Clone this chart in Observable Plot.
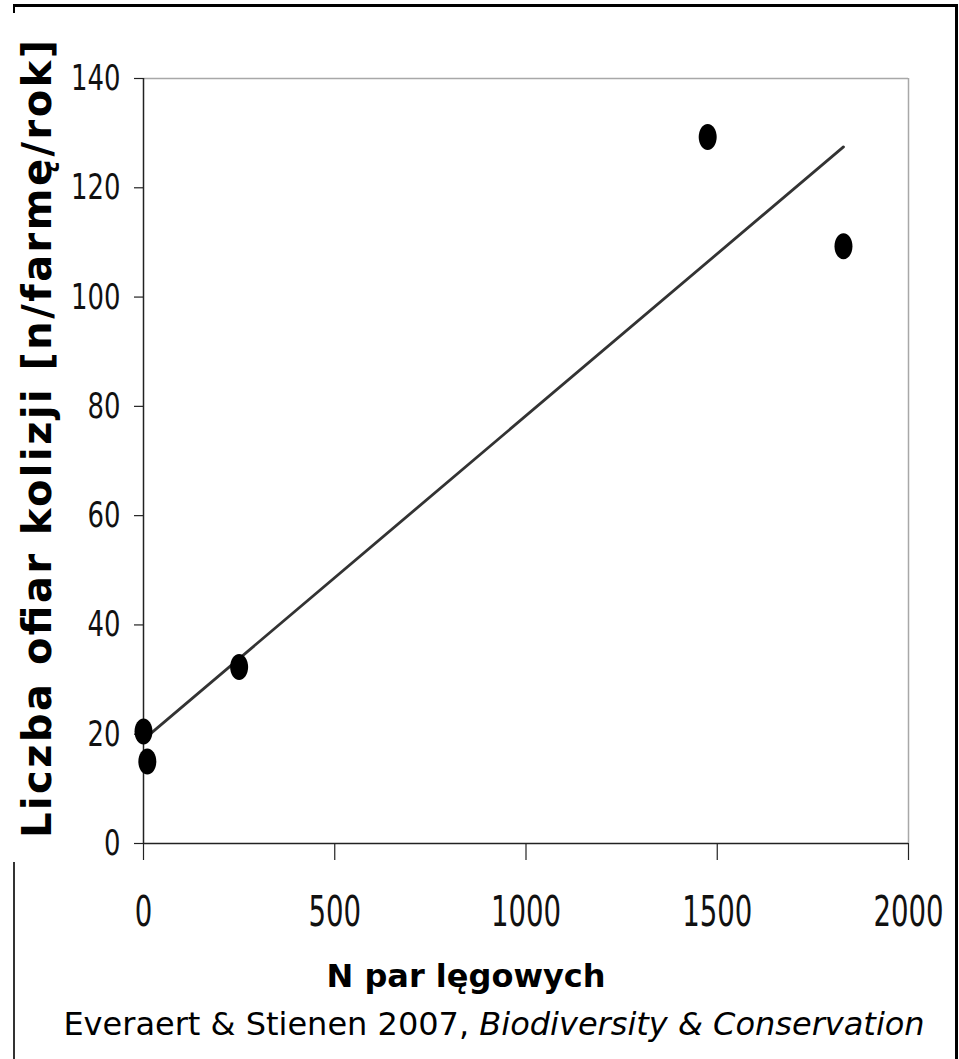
<!DOCTYPE html>
<html>
<head>
<meta charset="utf-8">
<script src="https://cdn.jsdelivr.net/npm/d3@7"></script>
<script src="https://cdn.jsdelivr.net/npm/@observablehq/plot@0.6"></script>
<style>
  html, body { margin: 0; padding: 0; background: #fff; }
  #wrap { position: relative; width: 959px; height: 1059px; overflow: hidden; background: #fff; }
  .bd { position: absolute; background: #000; }
  #chart { position: absolute; left: 0; top: 0; }
  #caption { position: absolute; left: 0; top: 1008px; width: 988px; text-align: center; white-space: nowrap;
    font-family: "DejaVu Sans", Verdana, sans-serif; font-size: 32px; color: #000; line-height: 1; }
</style>
</head>
<body>
<div id="wrap">
  <div class="bd" style="left:13px;top:4px;width:945px;height:3px;"></div>
  <div class="bd" style="left:955px;top:4px;width:3px;height:1055px;"></div>
  <div class="bd" style="left:13px;top:4px;width:2px;height:9px;"></div>
  <div class="bd" style="left:13px;top:862px;width:2px;height:197px;background:#333;"></div>
  <div id="chart"></div>
  <div id="caption">Everaert &amp; Stienen 2007, <i>Biodiversity &amp; Conservation</i></div>
</div>
<script>
// Data
const breedingPairs = [0, 10, 250, 1475, 1830];
const victims = [20.5, 15, 32.3, 129.3, 109.3];
const xTicks = [0, 500, 1000, 1500, 2000];
const yTicks = [0, 20, 40, 60, 80, 100, 120, 140];
const yTitle = "Liczba ofiar kolizji [n/farmę/rok]";
const xTitle = "N par lęgowych";

const data = breedingPairs.map((x, i) => ({x, y: victims[i]}));

// Ellipse symbol (points are taller than wide)
const ellipse = {
  draw(ctx) {
    const rx = 9, ry = 13, k = 0.5523;
    ctx.moveTo(rx, 0);
    ctx.bezierCurveTo(rx, k * ry, k * rx, ry, 0, ry);
    ctx.bezierCurveTo(-k * rx, ry, -rx, k * ry, -rx, 0);
    ctx.bezierCurveTo(-rx, -k * ry, -k * rx, -ry, 0, -ry);
    ctx.bezierCurveTo(k * rx, -ry, rx, -k * ry, rx, 0);
    ctx.closePath();
  }
};

const tickFont = "'Liberation Sans Narrow', 'Arial Narrow', 'DejaVu Sans Condensed', sans-serif";
const titleFont = "'DejaVu Sans', Verdana, sans-serif";

const chart = Plot.plot({
  width: 959,
  height: 1000,
  marginLeft: 143,
  marginTop: 78,
  marginRight: 51,
  marginBottom: 157,
  style: {background: "transparent", overflow: "visible"},
  x: {domain: [0, 2000]},
  y: {domain: [0, 140]},
  marks: [
    Plot.ruleY([140], {stroke: "#a8a8a8", strokeWidth: 1.5}),
    Plot.ruleX([2000], {stroke: "#a8a8a8", strokeWidth: 1.5}),
    Plot.axisY({ticks: yTicks, tickFormat: d => String(d), tickSize: 9, tickPadding: 14, label: null,
      fontSize: 36, fontFamily: tickFont, stroke: "#222", fill: "#111", strokeWidth: 1.2}),
    Plot.axisX({ticks: xTicks, tickFormat: d => String(d), tickSize: 17, tickPadding: 36, label: null,
      fontSize: 42, fontFamily: tickFont, stroke: "#222", fill: "#111", strokeWidth: 1.2}),
    Plot.ruleX([0], {stroke: "#222", strokeWidth: 1.5}),
    Plot.ruleY([0], {stroke: "#222", strokeWidth: 1.5}),
    Plot.linearRegressionY(data, {x: "x", y: "y", ci: 0, stroke: "#333", strokeWidth: 2.8}),
    Plot.dot(data, {x: "x", y: "y", symbol: ellipse, fill: "#000", stroke: "none"}),
    Plot.text([yTitle], {frameAnchor: "left", textAnchor: "middle", rotate: -90, dx: -105, dy: -22,
      fontSize: 40, fontWeight: "bold", fontFamily: titleFont, fill: "#000"}),
    Plot.text([xTitle], {frameAnchor: "bottom", dx: -60, dy: 143,
      fontSize: 32, fontWeight: "bold", fontFamily: titleFont, fill: "#000"})
  ]
});

const svg = d3.select(chart);
// Make the tick digits narrower, as in the reference
svg.selectAll("g[aria-label='y-axis tick label'] text")
  .attr("transform", function() { return (this.getAttribute("transform") || "") + " scale(0.8,1)"; });
svg.selectAll("g[aria-label='x-axis tick label'] text")
  .attr("transform", function() { return (this.getAttribute("transform") || "") + " scale(0.73,1)"; });
// Stretch the y title to the reference's length
svg.selectAll("g[aria-label='text'] text")
  .filter(function() { return this.textContent === yTitle; })
  .attr("textLength", 798).attr("lengthAdjust", "spacing");

document.getElementById("chart").appendChild(chart);
</script>
</body>
</html>
